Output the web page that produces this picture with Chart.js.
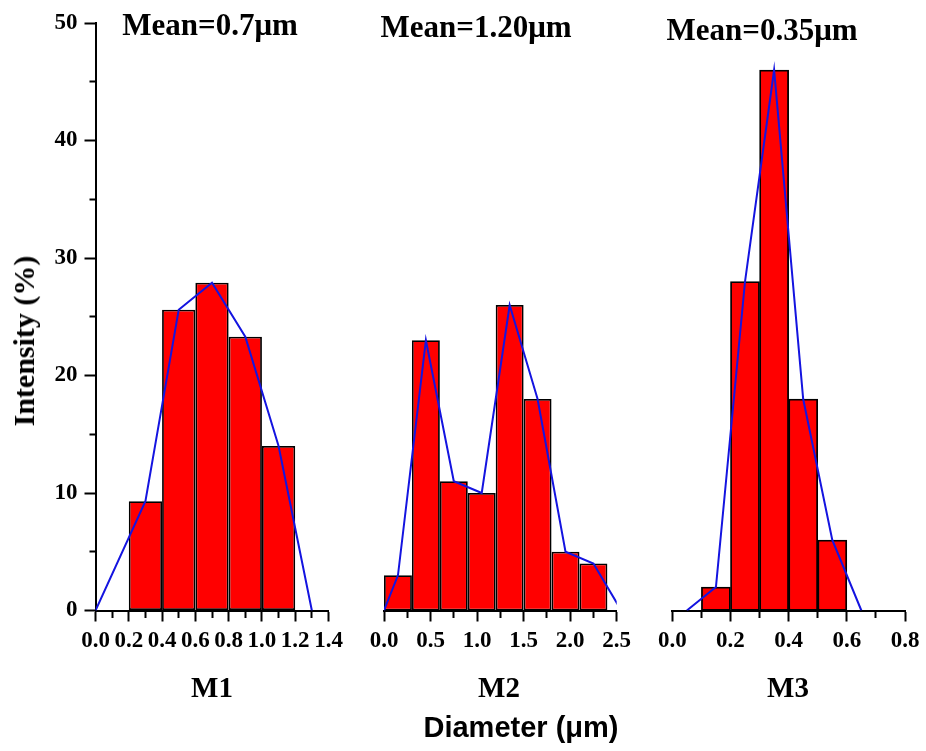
<!DOCTYPE html>
<html>
<head>
<meta charset="utf-8">
<script src="https://cdn.jsdelivr.net/npm/chart.js@4.4.1/dist/chart.umd.min.js"></script>
<style>
    body { margin: 0; background: #fff; }
    #wrap { position: relative; width: 926px; height: 751px; overflow: hidden; background: #fff; }
    #wrap canvas { position: absolute; left: 0; top: 0; }
    .txt { position: absolute; white-space: nowrap; line-height: 1; color: #000; font-weight: bold; transform: translateX(-50%); }
    .serif { font-family: "Liberation Serif", "Times New Roman", serif; }
    .sans { font-family: "Liberation Sans", Arial, sans-serif; }
    #ytitle { transform: translate(-50%, -50%) rotate(-90deg); }
</style>
</head>
<body>
<div id="wrap">
    <canvas id="m1" width="926" height="751"></canvas>
    <canvas id="m2" width="926" height="751"></canvas>
    <canvas id="m3" width="926" height="751"></canvas>

    <div class="txt serif" style="left:210px; top:9px; font-size:31px;">Mean=0.7μm</div>
    <div class="txt serif" style="left:476px; top:11px; font-size:31px;">Mean=1.20μm</div>
    <div class="txt serif" style="left:762px; top:14px; font-size:31px;">Mean=0.35μm</div>

    <div class="txt serif" style="left:212px; top:673px; font-size:29px;">M1</div>
    <div class="txt serif" style="left:499px; top:673px; font-size:29px;">M2</div>
    <div class="txt serif" style="left:788px; top:673px; font-size:29px;">M3</div>

    <div class="txt sans" style="left:521px; top:713px; font-size:29px;">Diameter (μm)</div>
    <div id="ytitle" class="txt serif" style="left:24px; top:341px; font-size:30px;">Intensity (%)</div>
</div>

<script>
// y axis (shared)
const yTickLabels = ['0', '10', '20', '30', '40', '50'];

// M1
const m1Centers = [0.3, 0.5, 0.7, 0.9, 1.1];
const m1Values = [9.3, 25.6, 27.9, 23.3, 14.0];
const m1CurveX = [0.0, 0.3, 0.5, 0.7, 0.9, 1.1, 1.3];
const m1CurveY = [0, 9.3, 25.6, 27.9, 23.3, 14.0, 0];
const m1TickLabels = ['0.0', '0.2', '0.4', '0.6', '0.8', '1.0', '1.2', '1.4'];
const m1BinWidth = 0.2;

// M2
const m2Centers = [0.15, 0.45, 0.75, 1.05, 1.35, 1.65, 1.95, 2.25];
const m2Values = [3, 23, 11, 10, 26, 18, 5, 4];
const m2CurveX = [0.0, 0.15, 0.45, 0.75, 1.05, 1.35, 1.65, 1.95, 2.25, 2.55];
const m2CurveY = [0, 3, 23, 11, 10, 26, 18, 5, 4, 0];
const m2TickLabels = ['0.0', '0.5', '1.0', '1.5', '2.0', '2.5'];
const m2BinWidth = 0.3;

// M3
const m3Centers = [0.15, 0.25, 0.35, 0.45, 0.55];
const m3Values = [2, 28, 46, 18, 6];
const m3CurveX = [0.05, 0.15, 0.25, 0.35, 0.45, 0.55, 0.65];
const m3CurveY = [0, 2, 28, 46, 18, 6, 0];
const m3TickLabels = ['0.0', '0.2', '0.4', '0.6', '0.8'];
const m3BinWidth = 0.1;

const tickFont = { family: 'Liberation Serif', weight: 'bold', size: 23 };

// major ticks from the labels, plus a minor tick half way between each pair
function tickList(labels) {
    const major = labels.map(l => parseFloat(l));
    const all = [];
    major.forEach((v, i) => {
        all.push(v);
        if(i < major.length - 1) {
            all.push((v + major[i + 1]) / 2);
        };
    });
    return { major, all, minorStep: (major[1] - major[0]) / 2 };
}

function labelFor(labels, value) {
    const idx = labels.findIndex(l => Math.abs(parseFloat(l) - value) < 1e-9);
    return idx >= 0 ? labels[idx] : '';
}

function axisGrid(major, minorDash) {
    return {
        drawOnChartArea: false,
        drawTicks: true,
        offset: false,
        tickLength: 11,
        tickWidth: 2,
        tickColor: '#000',
        tickBorderDash: (ctx) => {
            if(!ctx.tick) return [];
            const isMajor = major.some(m => Math.abs(m - ctx.tick.value) < 1e-9);
            return isMajor ? [] : minorDash;
        }
    };
}

function makePanel(id, centers, values, curveX, curveY, tickLabels, binWidth, area, showY) {
    const xt = tickList(tickLabels);
    const yt = tickList(yTickLabels);
    const minSpacing = Math.min(binWidth, xt.minorStep);
    const yMax = parseFloat(yTickLabels[yTickLabels.length - 1]);

    const yScale = showY ? {
        min: 0,
        max: yMax,
        afterBuildTicks: (s) => { s.ticks = yt.all.map(v => ({ value: v })); },
        afterFit: (s) => { s.width = 60; },
        border: { color: '#000', width: 2 },
        grid: axisGrid(yt.major, [0, 5, 6, 40]),
        ticks: {
            autoSkip: false,
            padding: 7,
            color: '#000',
            font: { family: 'Liberation Serif', weight: 'bold', size: 23 },
            callback: (value) => labelFor(yTickLabels, value)
        }
    } : {
        min: 0,
        max: yMax,
        display: false
    };

    return new Chart(document.getElementById(id), {
        type: 'bar',
        data: {
            datasets: [{
                type: 'line',
                data: curveX.map((x, i) => ({ x: x, y: curveY[i] })),
                borderColor: '#1414e0',
                borderWidth: 2,
                pointRadius: 0,
                tension: 0,
                fill: false
            }, {
                type: 'bar',
                data: centers.map((x, i) => ({ x: x, y: values[i] })),
                backgroundColor: '#ff0000',
                borderColor: '#000',
                borderWidth: 1.8,
                borderSkipped: false,
                categoryPercentage: 1,
                barPercentage: binWidth / minSpacing
            }]
        },
        options: {
            responsive: false,
            animation: false,
            layout: { padding: area },
            plugins: {
                legend: { display: false },
                tooltip: { enabled: false }
            },
            scales: {
                x: {
                    type: 'linear',
                    min: xt.major[0],
                    max: xt.major[xt.major.length - 1],
                    offset: false,
                    afterBuildTicks: (s) => { s.ticks = xt.all.map(v => ({ value: v })); },
                    afterFit: (s) => { s.height = 40; },
                    border: { color: '#000', width: 2 },
                    grid: axisGrid(xt.major, [6, 40]),
                    ticks: {
                        autoSkip: false,
                        maxRotation: 0,
                        minRotation: 0,
                        padding: 6,
                        color: '#000',
                        font: tickFont,
                        callback: (value) => labelFor(tickLabels, value)
                    }
                },
                y: yScale
            }
        }
    });
}

makePanel('m1', m1Centers, m1Values, m1CurveX, m1CurveY, m1TickLabels, m1BinWidth,
    { left: 35.5, right: 597.5, top: 23, bottom: 100.5 }, true);
makePanel('m2', m2Centers, m2Values, m2CurveX, m2CurveY, m2TickLabels, m2BinWidth,
    { left: 384, right: 309.3, top: 23, bottom: 100.5 }, false);
makePanel('m3', m3Centers, m3Values, m3CurveX, m3CurveY, m3TickLabels, m3BinWidth,
    { left: 672.3, right: 21, top: 23, bottom: 100.5 }, false);
</script>
</body>
</html>
